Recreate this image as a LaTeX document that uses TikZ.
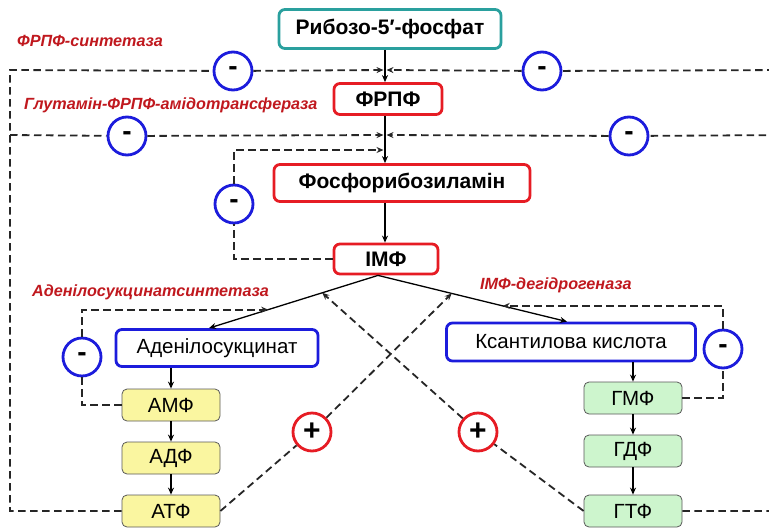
\documentclass[tikz,border=0pt]{standalone}
\usepackage{fontspec}
\setmainfont{Liberation Sans}
\usetikzlibrary{arrows.meta}
\definecolor{boxteal}{RGB}{42,160,158}
\definecolor{boxred}{RGB}{230,28,36}
\definecolor{boxblue}{RGB}{28,28,220}
\definecolor{labred}{RGB}{192,24,30}
\definecolor{ylwfill}{RGB}{250,246,160}
\definecolor{grnfill}{RGB}{205,245,205}
\begin{document}
\begin{tikzpicture}[x=1pt,y=-1pt,
	box/.style={draw,rounded corners=6pt,line width=2.8pt,inner sep=0pt,font=\bfseries\fontsize{21}{23}\selectfont},
	prod/.style={draw=boxblue,rounded corners=6pt,line width=2.8pt,inner sep=0pt,font=\fontsize{20.5}{22}\selectfont},
	nuc/.style={draw=black!65,rounded corners=5pt,line width=0.8pt,minimum width=98pt,minimum height=32pt,inner sep=0pt,font=\fontsize{20.5}{22}\selectfont},
	minus/.style={circle,draw=boxblue,fill=white,line width=2.8pt,minimum size=38pt,inner sep=0pt,font=\bfseries\fontsize{28}{28}\selectfont},
	plus/.style={circle,draw=boxred,fill=white,line width=2.8pt,minimum size=38pt,inner sep=0pt,font=\bfseries\fontsize{30}{30}\selectfont},
	enz/.style={anchor=west,inner sep=0pt,text=labred,font=\bfseries\itshape\fontsize{16.2}{18}\selectfont},
	flow/.style={-{Stealth[length=7pt,width=6pt]},line width=1.3pt},
	inh/.style={draw=black!85,line width=1.8pt,dash pattern=on 7.5pt off 4.5pt},
	inharr/.style={inh,-{Stealth[length=7pt,width=6pt]}},
]
	\useasboundingbox (0,0) rectangle (769,528);
	\clip (0,0) rectangle (769,528);

	% pathway
	\node[box,draw=boxteal,minimum width=222pt,minimum height=39pt] (rib) at (390,29) {Рибозо-5′-фосфат};
	\node[box,draw=boxred,minimum width=108pt,minimum height=31pt] (frpf) at (388,99) {ФРПФ};
	\node[box,draw=boxred,minimum width=256pt,minimum height=37pt] (pra) at (402,183) {Фосфорибозиламін};
	\node[box,draw=boxred,minimum width=104pt,minimum height=30pt] (imf) at (386,259) {ІМФ};
	\node[prod,minimum width=202pt,minimum height=37pt] (aden) at (217,348) {Аденілосукцинат};
	\node[prod,minimum width=249pt,minimum height=38pt] (ksant) at (571,342) {Ксантилова кислота};

	\node[nuc,fill=ylwfill] (amf) at (171,405) {АМФ};
	\node[nuc,fill=ylwfill] (adf) at (171,458) {АДФ};
	\node[nuc,fill=ylwfill] (atf) at (171,511) {АТФ};
	\node[nuc,fill=grnfill] (gmf) at (633,398) {ГМФ};
	\node[nuc,fill=grnfill] (gdf) at (633,451) {ГДФ};
	\node[nuc,fill=grnfill] (gtf) at (633,511) {ГТФ};

	% enzymes
	\node[enz] (e1) at (17,41) {ФРПФ-синтетаза};
	\node[enz] (e2) at (24,105) {Глутамін-ФРПФ-амідотрансфераза};
	\node[enz] (e3) at (32,292) {Аденілосукцинатсинтетаза};
	\node[enz] (e4) at (480,285) {ІМФ-дегідрогеназа};

	% points on the main line
	\coordinate (k1) at (385,70);
	\coordinate (k2) at (385,135);
	\coordinate (k3) at (385,150);
	\coordinate (lt) at (10,70);
	\coordinate (lm) at (10,135);
	\coordinate (rt) at (790,70);
	\coordinate (rm) at (790,135);

	\draw[flow] (rib.south -| k1) -- (frpf.north -| k1);
	\draw[flow] (frpf.south -| k1) -- (pra.north -| k1);
	\draw[flow] (pra.south -| k1) -- (imf.north -| k1);
	\draw[flow] ([xshift=-8pt]imf.south) -- coordinate[pos=0.33] (pa) coordinate[pos=0.65] (ia) ([xshift=-8pt]aden.north);
	\draw[flow] ([xshift=-8pt]imf.south) -- coordinate[pos=0.39] (pk) coordinate[pos=0.66] (ik) ([xshift=-4pt]ksant.north);

	\draw[flow] (amf |- aden.south) -- (amf.north);
	\draw[flow] (amf) -- (adf);
	\draw[flow] (adf) -- (atf);
	\draw[flow] (gmf |- ksant.south) -- (gmf.north);
	\draw[flow] (gmf) -- (gdf);
	\draw[flow] (gdf) -- (gtf);

	% inhibition
	\node[minus] (m1) at (233,71) {-};
	\node[minus] (m2) at (542,71) {-};
	\node[minus] (m3) at (127,136) {-};
	\node[minus] (m4) at (629,136) {-};
	\node[minus] (m5) at (234,204) {-};
	\node[minus] (m6) at (82,357) {-};
	\node[minus] (m7) at (723,349) {-};

	\draw[inh] (atf.west) -| (lt) -- (m1);
	\draw[inharr] (m1) -- ([xshift=-1.5pt]k1);
	\draw[inh] (lm) -- (m3);
	\draw[inharr] (m3) -- ([xshift=-1.5pt]k2);
	\draw[inh] (gtf.east) -| (rt) -- (m2);
	\draw[inharr] (m2) -- ([xshift=1.5pt]k1);
	\draw[inh] (rm) -- (m4);
	\draw[inharr] (m4) -- ([xshift=1.5pt]k2);
	\draw[inh] (imf.west) -| (m5);
	\draw[inharr] (m5) |- ([xshift=-1.5pt]k3);
	\draw[inh] (amf.west) -| (m6);
	\draw[inharr] (m6) |- (ia);
	\draw[inh] (gmf.east) -| (m7);
	\draw[inharr] (m7) |- (ik);

	% activation
	\node[plus] (p1) at (312,432) {+};
	\node[plus] (p2) at (478,432) {+};
	\draw[inh] (atf.east) -- (p1);
	\draw[inharr] (p1) -- (pk);
	\draw[inh] (gtf.west) -- (p2);
	\draw[inharr] (p2) -- (pa);

\end{tikzpicture}
\end{document}
